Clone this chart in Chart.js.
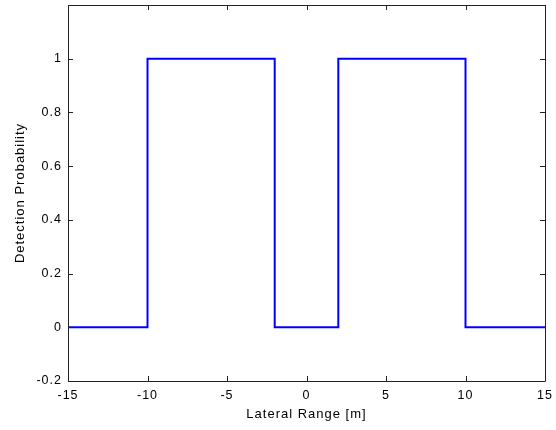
<!DOCTYPE html>
<html>
<head>
<meta charset="utf-8">
<script src="https://cdn.jsdelivr.net/npm/chart.js@4.4.1/dist/chart.umd.min.js"></script>
<style>
  html, body { margin: 0; padding: 0; background: #fff; }
  #wrap { width: 556px; height: 430px; }
</style>
</head>
<body>
<div id="wrap"><canvas id="grafico"></canvas></div>
<script>
// lateral range [m] and detection probability (step curve corners)
const rangeX = [-15, -10, -10, -2, -2, 2, 2, 10, 10, 15];
const probY = [0, 0, 1, 1, 0, 0, 1, 1, 0, 0];
const xTicks = [-15, -10, -5, 0, 5, 10, 15];
const yTicks = [-0.2, 0, 0.2, 0.4, 0.6, 0.8, 1];

const fontFam = "'Liberation Sans', Arial, Helvetica, sans-serif";

// wider letter spacing, like the MATLAB text
const spacing = {
  id: "spacing",
  beforeInit(chart) { chart.ctx.letterSpacing = "1px"; },
  beforeDraw(chart) { chart.ctx.letterSpacing = "1px"; }
};

// MATLAB-like box with inward ticks on all four sides
const boxTicks = {
  id: "boxTicks",
  afterDraw(chart) {
    const c = chart.ctx;
    const a = chart.chartArea;
    const sx = chart.scales.x, sy = chart.scales.y;
    const len = 5;
    c.save();
    c.strokeStyle = "#222";
    c.lineWidth = 1;
    c.beginPath();
    c.rect(Math.round(a.left) + 0.5, Math.round(a.top) + 0.5,
      Math.round(a.right - a.left), Math.round(a.bottom - a.top));
    xTicks.forEach(v => {
      const px = Math.round(sx.getPixelForValue(v)) + 0.5;
      c.moveTo(px, a.bottom); c.lineTo(px, a.bottom - len);
      c.moveTo(px, a.top); c.lineTo(px, a.top + len);
    });
    yTicks.forEach(v => {
      const py = Math.round(sy.getPixelForValue(v)) + 0.5;
      c.moveTo(a.left, py); c.lineTo(a.left + len, py);
      c.moveTo(a.right, py); c.lineTo(a.right - len, py);
    });
    c.stroke();
    c.restore();
  }
};

const ctx = document.getElementById("grafico").getContext("2d");
new Chart(ctx, {
  type: "scatter",
  data: {
    datasets: [{
      data: rangeX.map((x, i) => ({ x: x, y: probY[i] })),
      showLine: true,
      borderColor: "#0000ff",
      borderWidth: 2,
      pointRadius: 0,
      tension: 0,
      clip: false
    }]
  },
  options: {
    responsive: true,
    maintainAspectRatio: false,
    animation: false,
    layout: { padding: { top: 5, right: 11, left: 13, bottom: 0 } },
    plugins: { legend: { display: false }, tooltip: { enabled: false } },
    scales: {
      x: {
        type: "linear",
        min: -15, max: 15,
        afterBuildTicks: s => { s.ticks = xTicks.map(v => ({ value: v })); },
        afterFit: s => { s.height = 49; s.paddingLeft = 0; s.paddingRight = 0; },
        grid: { display: false, drawTicks: false },
        border: { display: false },
        ticks: { color: "#000", font: { family: fontFam, size: 12.5 }, padding: 7, maxRotation: 0 },
        title: { display: true, text: "Lateral Range [m]", color: "#000",
          font: { family: fontFam, size: 13 }, padding: { top: 4, bottom: 8 } }
      },
      y: {
        type: "linear",
        min: -0.2, max: 1.2,
        afterBuildTicks: s => { s.ticks = yTicks.map(v => ({ value: v })); },
        afterFit: s => { s.width = 55; s.paddingTop = 0; s.paddingBottom = 0; },
        grid: { display: false, drawTicks: false },
        border: { display: false },
        ticks: { color: "#000", font: { family: fontFam, size: 12.5 }, padding: 6,
          callback: v => String(Math.round(v * 10) / 10) },
        title: { display: true, text: "Detection Probability", color: "#000",
          font: { family: fontFam, size: 13 }, padding: { top: 0, bottom: 4 } }
      }
    }
  },
  plugins: [spacing, boxTicks]
});
</script>
</body>
</html>
